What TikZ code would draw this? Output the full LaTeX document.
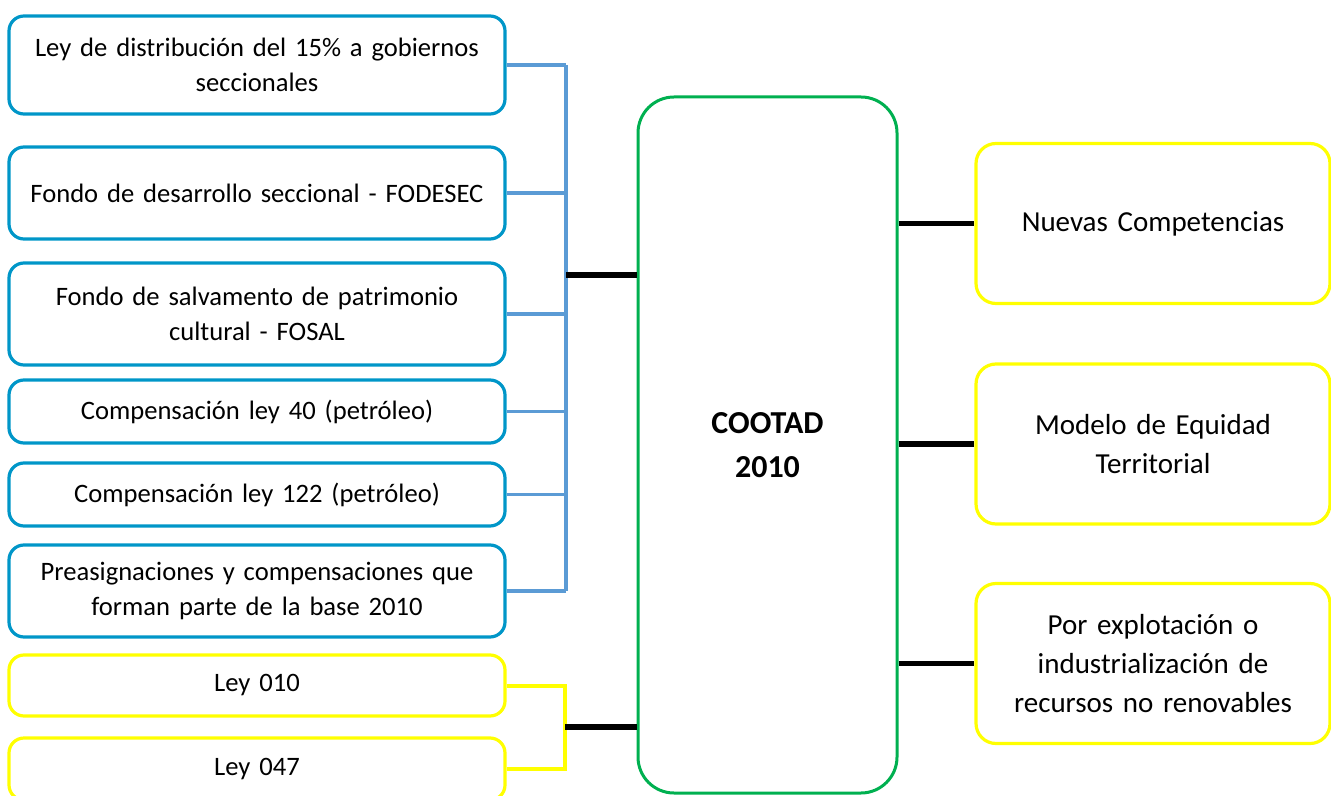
\documentclass[tikz,border=0pt]{standalone}
\usepackage{fontspec}
\setmainfont{Carlito}
\usepackage{tikz}
\definecolor{boxblue}{RGB}{0,150,200}
\definecolor{linkblue}{RGB}{91,155,213}
\definecolor{boxyellow}{RGB}{255,255,0}
\definecolor{boxgreen}{RGB}{0,176,80}
\tikzset{
  leftbox/.style={draw=boxblue, line width=1.6pt, rounded corners=7.5pt, inner sep=0pt,
    minimum width=248pt, text width=240pt, align=center, font=\fontsize{13.3}{17.5}\selectfont},
  leybox/.style={leftbox, draw=boxyellow},
  rightbox/.style={draw=boxyellow, line width=1.6pt, rounded corners=10pt, inner sep=0pt,
    minimum width=177pt, minimum height=80pt, text width=170pt, align=center,
    font=\fontsize{14.5}{19.7}\selectfont},
  mainbox/.style={draw=boxgreen, line width=1.5pt, rounded corners=18pt, inner sep=0pt,
    minimum width=129.5pt, minimum height=348pt, align=center,
    font=\fontsize{16}{22}\selectfont\bfseries},
  bluelink/.style={draw=linkblue, line width=1.8pt},
  yellowlink/.style={draw=boxyellow, line width=2pt},
  blacklink/.style={draw=black, line width=2.6pt}
}

\begin{document}
\begin{tikzpicture}[x=0.5pt,y=-0.5pt]
         \useasboundingbox (0,0) rectangle (1331,796);
         \node[leftbox, minimum height=49pt] (ley15) at (257,65) {Ley de distribución del 15\% a gobiernos\\seccionales};
         \node[leftbox, minimum height=46pt] (fodesec) at (257,193) {Fondo de desarrollo seccional - FODESEC};
         \node[leftbox, minimum height=51pt] (fosal) at (257,314) {Fondo de salvamento de patrimonio\\cultural - FOSAL};
         \node[leftbox, minimum height=31.5pt] (ley40) at (257,411.5) {Compensación ley 40 (petróleo)};
         \node[leftbox, minimum height=31.5pt] (ley122) at (257,494.5) {Compensación ley 122 (petróleo)};
         \node[leftbox, minimum height=46pt] (preasig) at (257,591) {Preasignaciones y compensaciones que\\forman parte de la base 2010};
         \node[leybox, minimum height=30.5pt] (ley010) at (257,685.5) {Ley 010};
         \node[leybox, minimum height=31pt] (ley047) at (257,769) {Ley 047};
         \node[mainbox] (cootad) at (767.5,445) {COOTAD\\2010};
         \node[rightbox] (nuevas) at (1153,223.5) {Nuevas Competencias};
         \node[rightbox] (equidad) at (1153,444) {Modelo de Equidad\\Territorial};
         \node[rightbox] (recursos) at (1153,663.5) {Por explotación o\\industrialización de\\recursos no renovables};
         \coordinate (bluebus) at (566,275);
         \coordinate (yellowbus) at (565,727);
         \foreach \src in {ley15,fodesec,fosal,ley40,ley122,preasig} {\draw[bluelink] (\src.east) -- (\src.east -| bluebus); }
         \draw[bluelink] (ley15.east -| bluebus) -- (preasig.east -| bluebus);
         \draw[blacklink] (bluebus) -- (bluebus -| cootad.west);
         \draw[yellowlink] (ley010.east) -| (yellowbus) |- (ley047.east);
         \draw[blacklink] (yellowbus) -- (yellowbus -| cootad.west);
         \foreach \dst in {nuevas,equidad,recursos} {\draw[blacklink] (cootad.east |- \dst.west) -- (\dst.west); }
      \end{tikzpicture}
\end{document}
